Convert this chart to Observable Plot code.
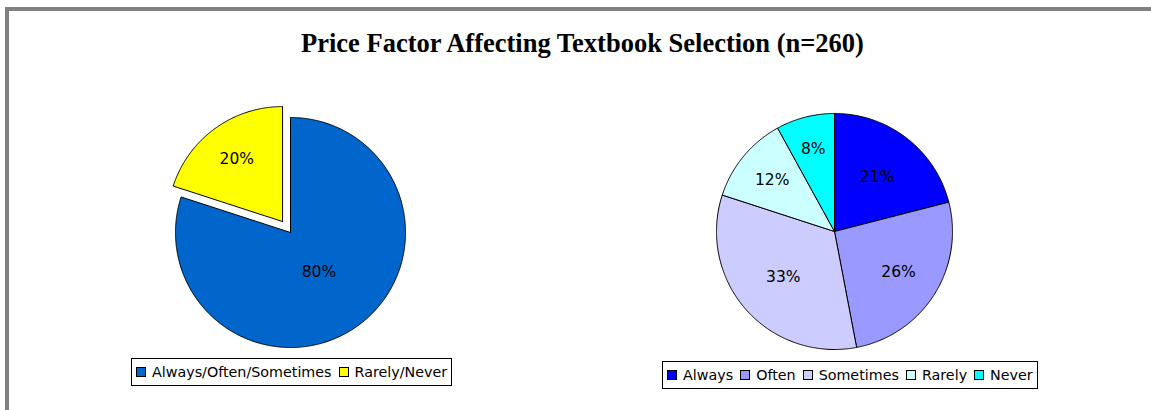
<!DOCTYPE html>
<html>
<head>
<meta charset="utf-8">
<script src="https://cdn.jsdelivr.net/npm/d3@7"></script>
<script src="https://cdn.jsdelivr.net/npm/@observablehq/plot@0.6"></script>
<style>
  html, body { margin: 0; padding: 0; background: #fff; overflow: hidden; }
  #wrap { position: relative; width: 1151px; height: 410px; overflow: hidden; background: #fff; }
  #frame { position: absolute; left: 5px; top: 7px; width: 1300px; height: 600px;
           border-left: 4px solid #808080; border-top: 4px solid #808080; }
  #title { position: absolute; left: 0; width: 1165px; top: 28px; text-align: center;
           font-family: "Liberation Serif", "Times New Roman", serif; font-weight: bold; font-size: 26.5px;
           color: #000; white-space: nowrap; }
  #chart { position: absolute; left: 0; top: 0; }
  .legend { position: absolute; display: flex; align-items: center; height: 26px; padding: 0 4px 0 4px;
            border: 1px solid #000; background: #fff;
            font-family: "DejaVu Sans", Verdana, sans-serif; font-size: 14.3px; color: #000; white-space: nowrap; }
  .legend .item { display: flex; align-items: center; margin-right: 7px; }
  .legend .item:last-child { margin-right: 0; }
  .legend .sw { width: 8px; height: 8px; border: 1px solid #000; margin-right: 6px; }
</style>
</head>
<body>
<div id="wrap">
  <div id="frame"></div>
  <div id="title"></div>
  <div id="chart"></div>
  <div id="legendL" class="legend" style="left:131px; top:358px;"></div>
  <div id="legendR" class="legend" style="left:662px; top:361px;"></div>
</div>
<script>
// ---- data ----
const titleText = "Price Factor Affecting Textbook Selection (n=260)";
const leftCategories = ["Always/Often/Sometimes", "Rarely/Never"];
const leftValues = [80, 20];
const rightCategories = ["Always", "Often", "Sometimes", "Rarely", "Never"];
const rightValues = [21, 26, 33, 12, 8];

// ---- styles / layout ----
const leftColors = ["#0066CC", "#FFFF00"];
const rightColors = ["#0000FF", "#9999FF", "#CCCCFF", "#CCFFFF", "#00FFFF"];
const W = 1151, H = 410;
const leftPie = {cx: 290, cy: 232, r: 115, explode: {"Rarely/Never": 13.5}, labelRadius: [0.42, 0.677]};
const rightPie = {cx: 834, cy: 231, r: 118, explode: {}, labelRadius: [0.586, 0.643, 0.578, 0.686, 0.725]};

function buildPie(cats, vals, cfg, pieId) {
  const total = d3.sum(vals);
  const polys = [], labels = [];
  let acc = 0;
  cats.forEach((c, i) => {
    const a0 = acc / total * 2 * Math.PI;
    acc += vals[i];
    const a1 = acc / total * 2 * Math.PI;
    const mid = (a0 + a1) / 2;
    const off = cfg.explode[c] || 0;
    const ox = cfg.cx + off * Math.sin(mid), oy = cfg.cy - off * Math.cos(mid);
    const key = pieId + ":" + c;
    polys.push({key, cat: c, x: ox, y: oy});
    const n = Math.max(2, Math.ceil((a1 - a0) / (Math.PI / 360)));
    for (let k = 0; k <= n; k++) {
      const a = a0 + (a1 - a0) * k / n;
      polys.push({key, cat: c, x: ox + cfg.r * Math.sin(a), y: oy - cfg.r * Math.cos(a)});
    }
    polys.push({key, cat: c, x: ox, y: oy});
    const lr = cfg.labelRadius[i] * cfg.r;
    labels.push({x: ox + lr * Math.sin(mid), y: oy - lr * Math.cos(mid), text: vals[i] + "%"});
  });
  return {polys, labels};
}

const L = buildPie(leftCategories, leftValues, leftPie, "L");
const R = buildPie(rightCategories, rightValues, rightPie, "R");
const polys = [...L.polys, ...R.polys];
const labels = [...L.labels, ...R.labels];

const plot = Plot.plot({
  width: W, height: H, margin: 0,
  x: {domain: [0, W], range: [0, W], axis: null},
  y: {domain: [0, H], range: [0, H], axis: null},
  color: {domain: [...leftCategories, ...rightCategories], range: [...leftColors, ...rightColors]},
  style: {background: "transparent"},
  marks: [
    Plot.line(polys, {x: "x", y: "y", z: "key", fill: "cat", stroke: "#000", strokeWidth: 1, strokeLinejoin: "miter"}),
    Plot.text(labels, {x: "x", y: "y", text: "text", fontSize: 15.5, fontFamily: "DejaVu Sans, Verdana, sans-serif", fill: "#000"})
  ]
});
document.getElementById("chart").appendChild(plot);
document.getElementById("title").textContent = titleText;

function legend(id, cats, colors) {
  const el = document.getElementById(id);
  cats.forEach((c, i) => {
    const it = document.createElement("div"); it.className = "item";
    const sw = document.createElement("div"); sw.className = "sw"; sw.style.background = colors[i];
    const tx = document.createElement("span"); tx.textContent = c;
    it.appendChild(sw); it.appendChild(tx); el.appendChild(it);
  });
}
legend("legendL", leftCategories, leftColors);
legend("legendR", rightCategories, rightColors);
</script>
</body>
</html>
